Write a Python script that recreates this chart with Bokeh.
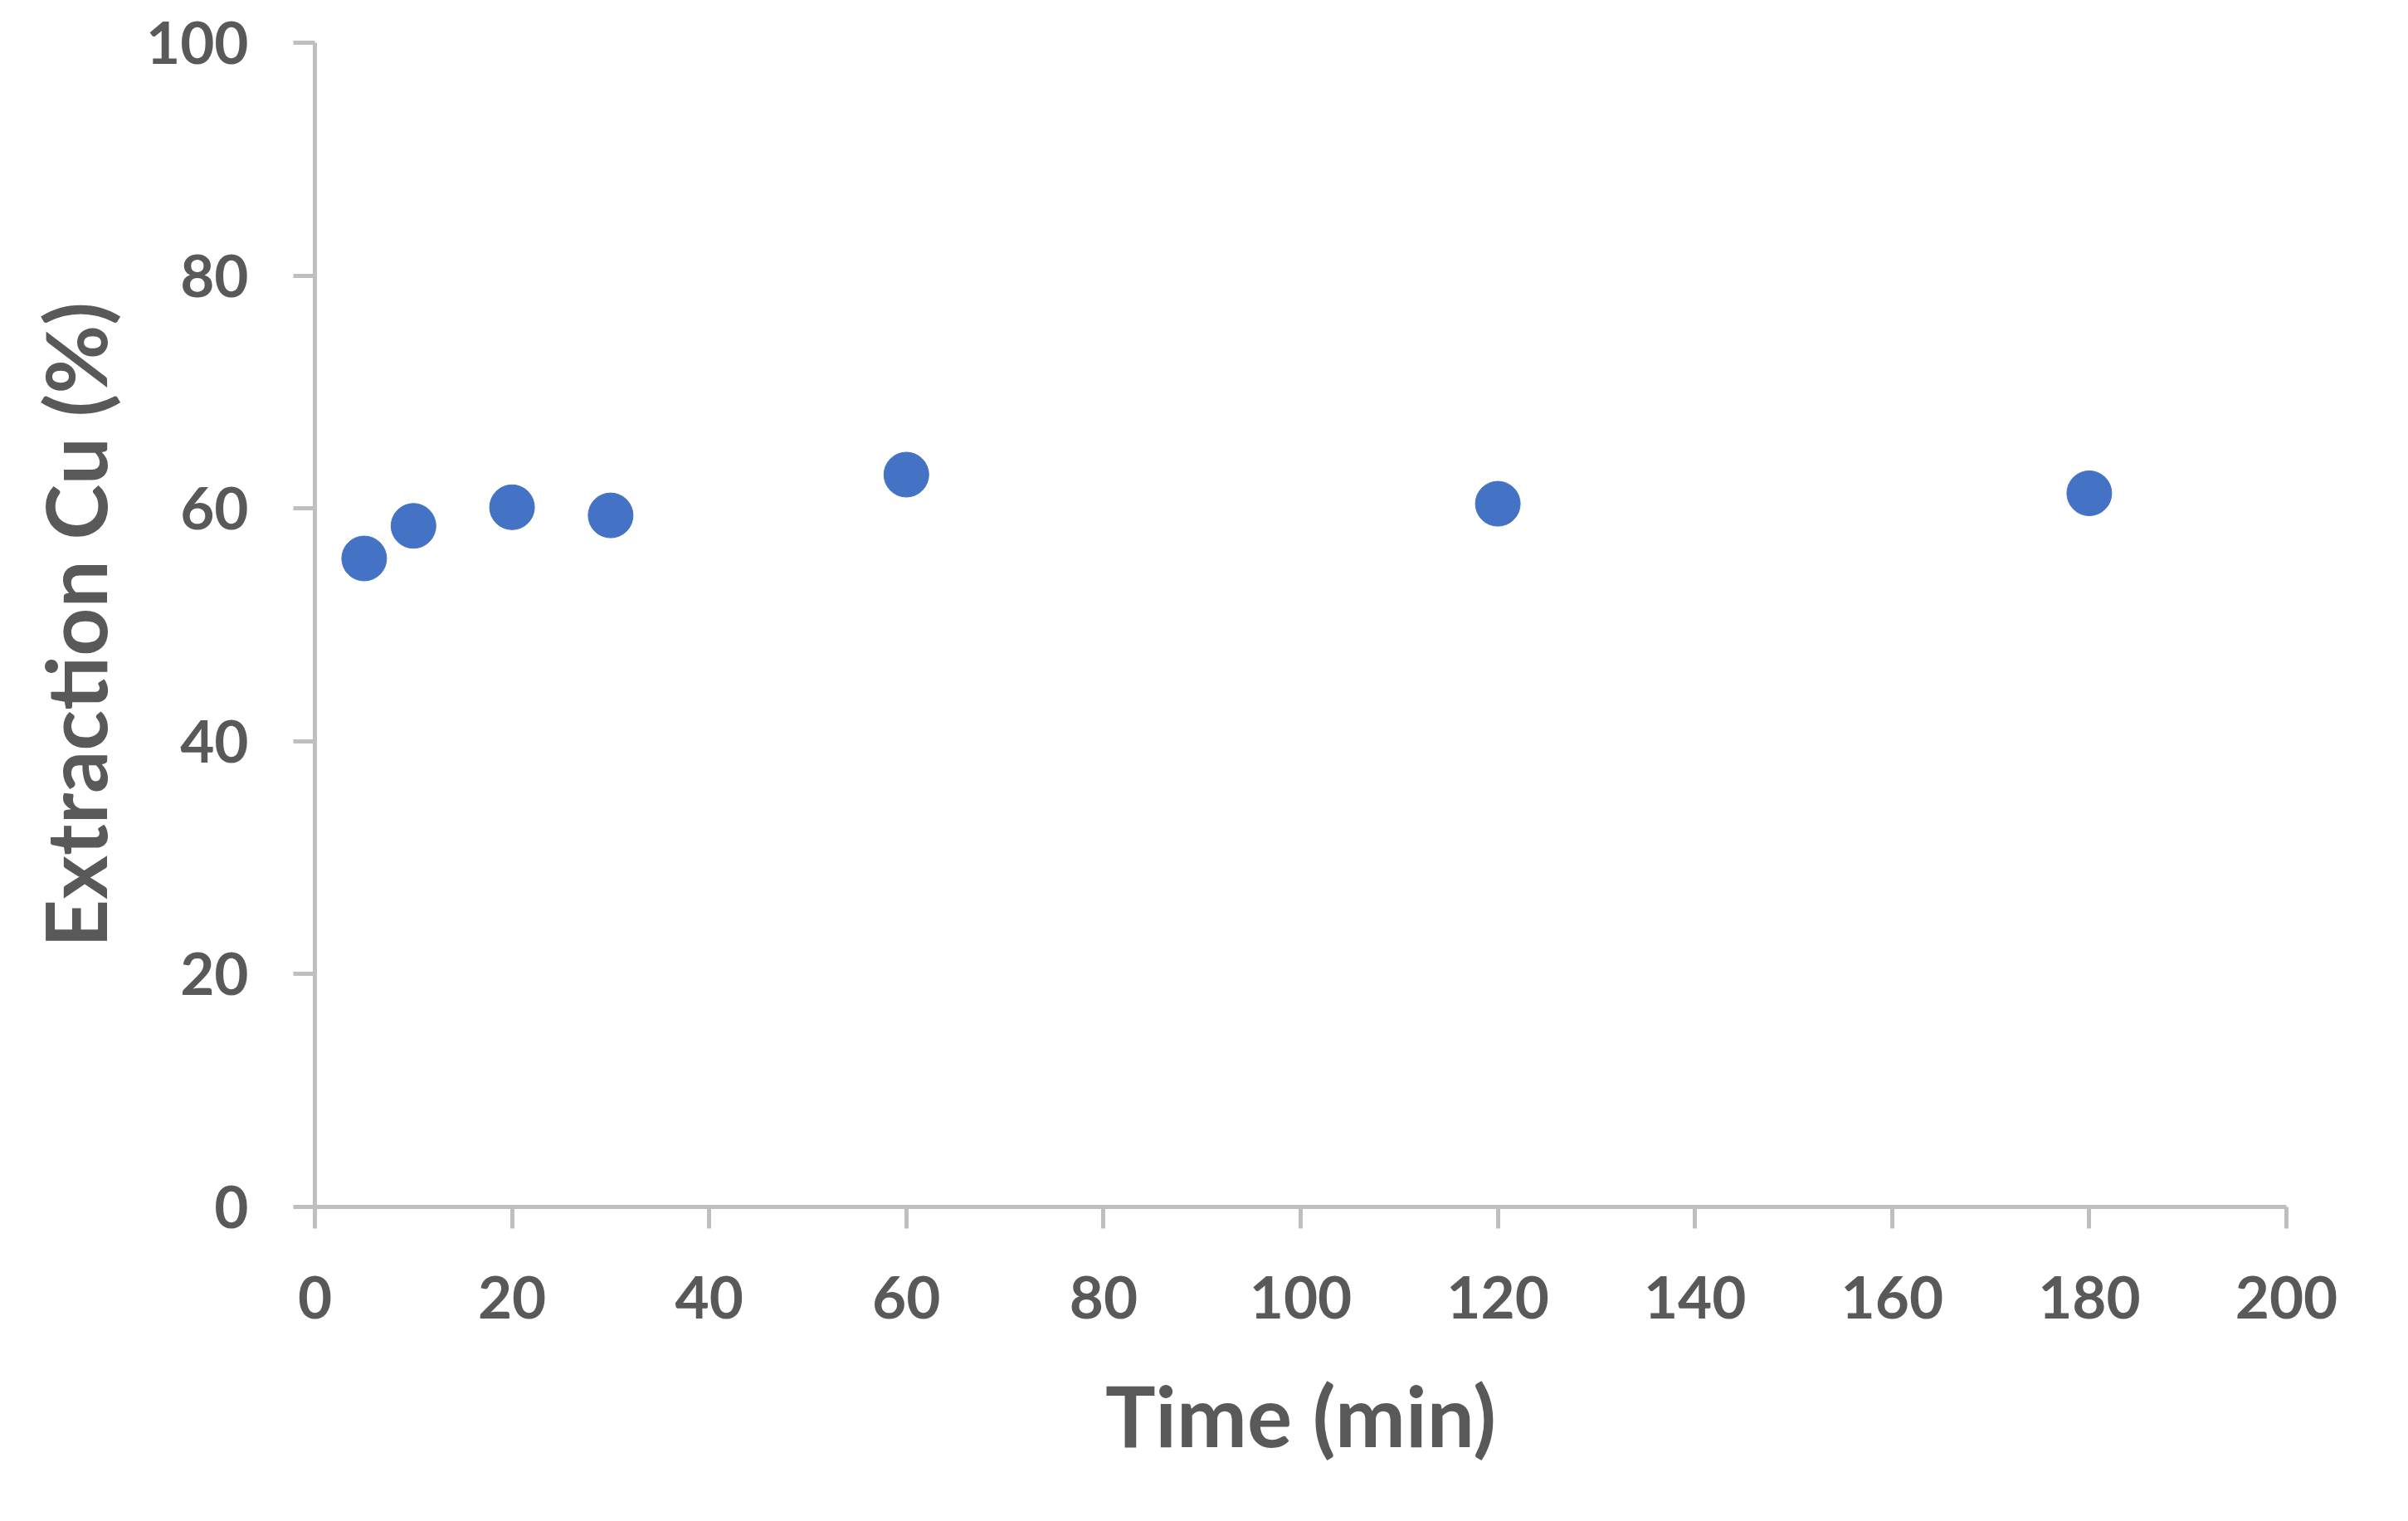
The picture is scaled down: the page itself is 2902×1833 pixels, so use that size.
from bokeh.plotting import figure
from bokeh.models import Range1d, FixedTicker
from bokeh.embed import file_html
from bokeh.resources import INLINE

time_min = [5, 10, 20, 30, 60, 120, 180]
extraction_cu = [55.7, 58.5, 60.1, 59.4, 62.9, 60.4, 61.3]
x_ticks = [0, 20, 40, 60, 80, 100, 120, 140, 160, 180, 200]
y_ticks = [0, 20, 40, 60, 80, 100]
x_title = "Time (min)"
y_title = "Extraction Cu (%)"

FONT = "Lato"
TXT = "#595959"
AXC = "#BFBFBF"

p = figure(output_backend="svg", toolbar_location=None,
           frame_width=2376, frame_height=1403,
           min_border_left=379, min_border_right=130,
           min_border_top=51, min_border_bottom=350,
           x_range=Range1d(0, 200), y_range=Range1d(0, 100))
p.outline_line_color = None
p.xgrid.grid_line_color = None
p.ygrid.grid_line_color = None
p.background_fill_color = "white"
p.border_fill_color = "white"

p.scatter(time_min, extraction_cu, size=54, marker="circle",
          fill_color="#4472C4", line_color="#4472C4")

for ax in (p.xaxis[0], p.yaxis[0]):
    ax.axis_line_color = AXC
    ax.axis_line_width = 5
    ax.major_tick_line_color = AXC
    ax.major_tick_line_width = 5
    ax.major_tick_out = 26
    ax.major_tick_in = 0
    ax.minor_tick_line_color = None
    ax.major_label_text_font = FONT
    ax.major_label_text_font_style = "bold"
    ax.major_label_text_font_size = "71px"
    ax.major_label_text_color = TXT
    ax.axis_label_text_font = FONT
    ax.axis_label_text_font_style = "bold"
    ax.axis_label_text_font_size = "76pt"
    ax.axis_label_text_color = TXT

p.xaxis.ticker = FixedTicker(ticks=x_ticks)
p.yaxis.ticker = FixedTicker(ticks=y_ticks)
p.xaxis.axis_label = x_title
p.yaxis.axis_label = y_title
p.xaxis.major_label_standoff = 57
p.yaxis.major_label_standoff = 54
p.xaxis.axis_label_standoff = 52
p.yaxis.axis_label_standoff = 22

open("out.html", "w").write(file_html(p, INLINE))
